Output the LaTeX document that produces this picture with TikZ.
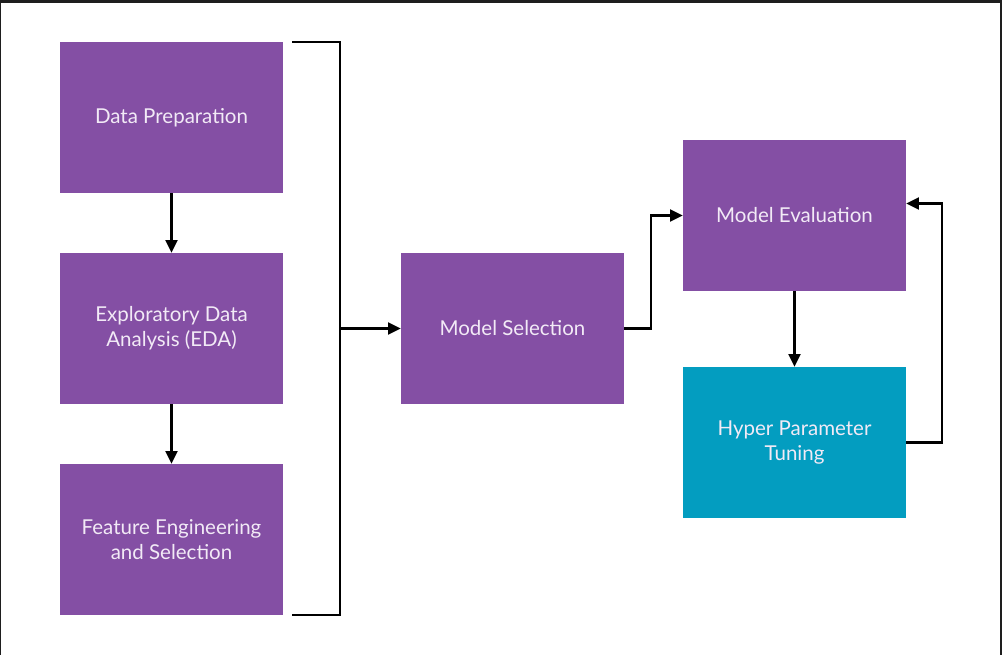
\documentclass[tikz,border=0pt]{standalone}
\usepackage{fontspec}
\setmainfont{Lato}
\usepackage{xcolor}
\usetikzlibrary{arrows.meta,positioning}
\definecolor{stepcol}{HTML}{844FA4}
\definecolor{tunecol}{HTML}{039DC0}
\definecolor{framecol}{HTML}{1E1E1E}
\definecolor{txtcol}{HTML}{F2EAF6}

\begin{document}
\begin{tikzpicture}[x=0.03cm,y=-0.03cm,font=\fontsize{17.5}{21}\selectfont,
  stage/.style={fill=stepcol,text=txtcol,align=center,inner sep=0pt,
                minimum width=223*0.03cm,minimum height=151*0.03cm},
  tune/.style={stage,fill=tunecol},
  link/.style={-{Triangle[length=3.8mm,width=3.6mm]},line width=1.8pt},
]
% frame
\fill[framecol] (0,0) rectangle (1002,655);
\fill[white] (1,3) rectangle (1000,655);
\useasboundingbox (0,0) rectangle (1002,655);

\node[stage] (prep) at (171.5,117.5) {Data Preparation};
\node[stage] (eda)  at (171.5,328.5) {Exploratory Data\\Analysis (EDA)};
\node[stage] (feat) at (171.5,539.5) {Feature Engineering\\and Selection};
\node[stage] (sel)  at (512.5,328.5) {Model Selection};
\node[stage] (eval) at (794.5,215.5) {Model Evaluation};
\node[tune]  (hpt)  at (794.5,442.5) {Hyper Parameter\\Tuning};

\coordinate (btop) at (292,42);
\coordinate (bbot) at (292,615);
\coordinate (bmid) at (340,328.5);

\draw[link] (prep) -- (eda);
\draw[link] (eda) -- (feat);
\draw[line width=1.8pt] (btop) -| (bmid) |- (bbot);
\draw[link] (bmid) -- (sel);
\draw[link] (sel.east) -- ++(27,0) |- (eval.west);
\draw[link] (eval) -- (hpt);
\draw[link] (hpt.east) -- ++(36,0) |- ([yshift=12*0.03cm]eval.east);
\end{tikzpicture}
\end{document}
